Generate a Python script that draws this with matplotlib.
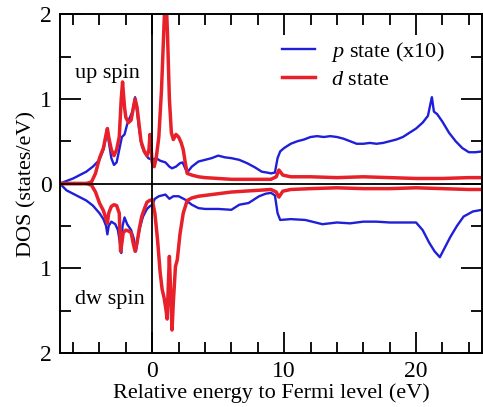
import numpy as np
import matplotlib
matplotlib.use("Agg")
import matplotlib.pyplot as plt

plt.rcParams['font.family'] = ['Liberation Serif', 'DejaVu Serif']
plt.rcParams['mathtext.fontset'] = 'custom'
plt.rcParams['mathtext.it'] = 'Liberation Serif:italic'
plt.rcParams['mathtext.rm'] = 'Liberation Serif'

# d state, up spin
e_d_up = [-7, -5, -4.6, -4.3, -4.0, -3.7, -3.5, -3.4, -3.3, -3.1, -2.9, -2.7, -2.5, -2.35, -2.25,
          -2.1, -2.0, -1.8, -1.6, -1.4, -1.3, -1.15, -1.0, -0.85, -0.6, -0.4, -0.25, -0.17, -0.08,
          0.0, 0.15, 0.3, 0.5, 0.7, 0.85, 0.95, 1.05, 1.15, 1.3, 1.45, 1.6, 1.8, 2.0, 2.2, 2.35,
          2.5, 2.65, 3.0, 3.5, 4.0, 5.0, 6.0, 7.0, 8.0, 9.0, 9.4, 9.6, 9.9, 10.5, 12, 14, 16, 18,
          20, 22, 24, 25]
d_up = [0, 0, 0.02, 0.12, 0.3, 0.42, 0.58, 0.65, 0.55, 0.4, 0.33, 0.4, 0.55, 1.0, 1.2,
        0.9, 0.78, 0.72, 0.75, 0.92, 1.0, 0.9, 0.7, 0.5, 0.38, 0.33, 0.4, 0.58, 0.4,
        0.25, 0.2, 0.3, 0.55, 1.1, 1.7, 2.1, 2.2, 1.8, 1.0, 0.6, 0.52, 0.58, 0.55, 0.48, 0.4,
        0.25, 0.12, 0.1, 0.08, 0.07, 0.06, 0.05, 0.05, 0.05, 0.05, 0.08, 0.16, 0.1, 0.08, 0.08,
        0.07, 0.08, 0.07, 0.06, 0.06, 0.07, 0.07]

# d state, down spin
e_d_dw = [-7, -5, -4.6, -4.3, -4.0, -3.7, -3.5, -3.4, -3.3, -3.1, -2.9, -2.7, -2.5, -2.4, -2.3,
          -2.2, -2.0, -1.8, -1.6, -1.45, -1.3, -1.15, -1.0, -0.8, -0.6, -0.4, -0.2, 0.0, 0.2,
          0.4, 0.6, 0.75, 0.9, 1.05, 1.13, 1.22, 1.3, 1.4, 1.5, 1.6, 1.76, 1.9, 2.1, 2.35, 2.65,
          3.0, 3.5, 4.0, 5.0, 6.0, 7.0, 8.0, 9.0, 9.4, 9.6, 9.9, 10.5, 12, 14, 16, 18, 20, 22,
          24, 25]
d_dw = [0, 0, -0.02, -0.1, -0.23, -0.32, -0.42, -0.47, -0.35, -0.27, -0.25, -0.26, -0.35, -0.8, -0.7,
        -0.58, -0.55, -0.56, -0.58, -0.7, -0.8, -0.7, -0.55, -0.39, -0.3, -0.22, -0.2, -0.19, -0.35,
        -0.66, -1.05, -1.25, -1.35, -1.5, -1.6, -1.2, -0.86, -1.3, -1.73, -1.4, -0.98, -0.9, -0.6, -0.35, -0.2,
        -0.17, -0.15, -0.14, -0.12, -0.1, -0.09, -0.08, -0.07, -0.1, -0.16, -0.09, -0.07, -0.06, -0.05, -0.06,
        -0.06, -0.05, -0.06, -0.07, -0.07]

# p state (x10), up spin
e_p_up = [-7, -6.5, -6, -5.5, -5, -4.5, -4, -3.7, -3.5, -3.4, -3.3, -3.1, -2.9, -2.7, -2.5, -2.3,
          -2.1, -1.9, -1.7, -1.5, -1.3, -1.15, -1.0, -0.8, -0.6, -0.3, 0, 0.3, 0.6, 1.0, 1.3, 1.5,
          1.8, 2.1, 2.3, 2.5, 2.65, 3.0, 3.5, 4.0, 4.5, 5.0, 5.5, 6.0, 6.6, 7.2, 7.8, 8.3, 8.7,
          9.0, 9.3, 9.5, 9.7, 10.0, 10.5, 11, 11.5, 12, 12.5, 13, 13.5, 14, 14.5, 15, 15.5, 16,
          16.5, 17, 17.5, 18, 18.5, 19, 19.5, 20, 20.5, 20.9, 21.1, 21.2, 21.35, 21.6, 22, 22.5,
          23, 23.5, 24, 24.5, 25]
p_up = [0, 0.03, 0.06, 0.1, 0.14, 0.2, 0.28, 0.4, 0.55, 0.65, 0.5, 0.3, 0.22, 0.25, 0.4, 0.55,
        0.58, 0.7, 0.78, 0.85, 1.02, 0.85, 0.65, 0.45, 0.37, 0.3, 0.28, 0.3, 0.27, 0.25, 0.2, 0.18,
        0.2, 0.24, 0.25, 0.18, 0.13, 0.2, 0.26, 0.28, 0.3, 0.33, 0.31, 0.3, 0.28, 0.24, 0.19, 0.14, 0.13,
        0.12, 0.13, 0.3, 0.38, 0.42, 0.47, 0.5, 0.52, 0.55, 0.56, 0.55, 0.56, 0.55, 0.53, 0.5, 0.47, 0.47,
        0.48, 0.47, 0.48, 0.5, 0.52, 0.55, 0.6, 0.65, 0.72, 0.8, 0.95, 1.02, 0.85, 0.82, 0.73, 0.6,
        0.5, 0.42, 0.37, 0.37, 0.38]

# p state (x10), down spin
e_p_dw = [-7, -6.5, -6, -5.5, -5, -4.5, -4, -3.7, -3.5, -3.4, -3.3, -3.1, -2.8, -2.6, -2.45, -2.35,
          -2.25, -2.1, -1.9, -1.6, -1.4, -1.23, -1.1, -0.9, -0.7, -0.4, -0.2, 0, 0.2, 0.5, 1.0, 1.3,
          1.6, 2.0, 2.5, 3.0, 3.5, 4, 5, 6, 6.6, 7.3, 8.1, 8.6, 9.0, 9.3, 9.5, 9.7, 10.5, 11.6,
          12.9, 14, 15, 16, 17, 18, 19, 20, 20.5, 21, 21.4, 21.8, 22.2, 22.6, 23.1, 23.6, 24.3, 25]
p_dw = [0, -0.08, -0.12, -0.16, -0.2, -0.26, -0.35, -0.42, -0.5, -0.6, -0.5, -0.45, -0.48, -0.55, -0.7, -0.82,
        -0.5, -0.4, -0.48, -0.55, -0.65, -0.8, -0.65, -0.5, -0.39, -0.3, -0.27, -0.25, -0.18, -0.15, -0.13, -0.18,
        -0.15, -0.15, -0.19, -0.25, -0.29, -0.3, -0.3, -0.31, -0.25, -0.23, -0.15, -0.12, -0.11, -0.14, -0.35, -0.43, -0.42, -0.43,
        -0.48, -0.46, -0.47, -0.45, -0.45, -0.46, -0.46, -0.46, -0.55, -0.7, -0.8, -0.87, -0.75, -0.63, -0.5, -0.39, -0.33, -0.31]

blue = '#1f1fd8'
red = '#e8202a'

fig = plt.figure(figsize=(4.83, 4.07), dpi=100)
ax = fig.add_axes([0.124, 0.133, 0.874, 0.832])

ax.plot(e_p_up, p_up, color=blue, lw=1.7, label='$p$ state (x10)')
ax.plot(e_d_up, d_up, color=red, lw=2.5, label='$d$ state')
ax.plot(e_p_dw, p_dw, color=blue, lw=1.7)
ax.plot(e_d_dw, d_dw, color=red, lw=2.5)

ax.axhline(0, color='black', lw=1.3, zorder=5)
ax.axvline(0, color='black', lw=1.3, zorder=5)

ax.set_xlim(-7, 25)
ax.set_ylim(-2, 2)
ax.set_xticks([0, 10, 20])
ax.set_xticks(np.arange(-6, 25, 2), minor=True)
ax.set_yticks([-2, -1, 0, 1, 2])
ax.set_yticklabels(['2', '1', '0', '1', '2'])
ax.set_yticks([-1.5, -0.5, 0.5, 1.5], minor=True)
ax.tick_params(which='both', direction='in', top=True, right=True, labelsize=17, width=1.3)
ax.tick_params(which='major', length=15, pad=6)
ax.tick_params(which='minor', length=8)
for s in ax.spines.values():
    s.set_linewidth(1.4)

ax.set_xlabel('Relative energy to Fermi level (eV)', fontsize=16, labelpad=1)
ax.set_ylabel('DOS (states/eV)', fontsize=16, labelpad=2)

ax.text(-5.85, 1.25, 'up spin', fontsize=16)
ax.text(-5.85, -1.42, 'dw spin', fontsize=16)

ax.legend(loc='upper left', bbox_to_anchor=(0.5, 0.957), frameon=False, fontsize=16,
          handlelength=1.5, handletextpad=0.7, labelspacing=0.25, borderpad=0)

fig.savefig('out.png', dpi=100)
